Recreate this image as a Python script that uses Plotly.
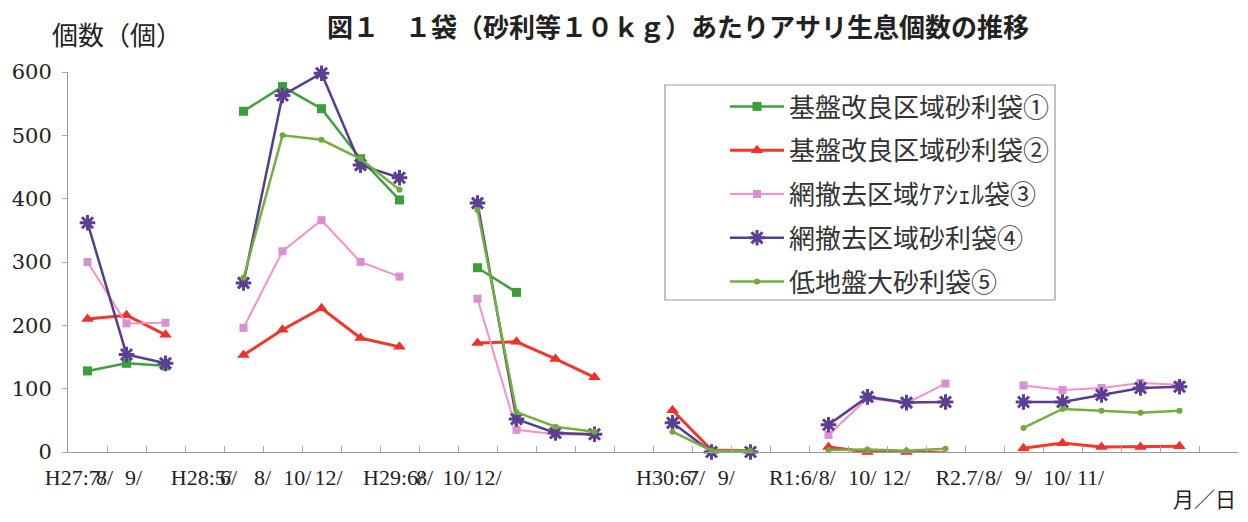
import plotly.graph_objects as go

# slot index of each survey on the x axis (gaps between years)
slots = [0, 1, 2, 4, 5, 6, 7, 8, 10, 11, 12, 13, 15, 16, 17, 19, 20, 21, 22, 24, 25, 26, 27, 28]
tick_labels = ["H27:7/", "8/", "9/", "H28:5/", "6/", "8/", "10/", "12/",
               "H29:6/", "8/", "10/", "12/", "H30:6/", "7/", "9/",
               "R1:6/", "8/", "10/", "12/", "R2.7/", "8/", "9/", "10/", "11/"]
tick_label_pos = [-0.31, 0.44, 1.18, 2.92, 3.62, 4.49, 5.38, 6.18,
                  7.85, 8.64, 9.46, 10.26, 14.85, 15.62, 16.38,
                  18.10, 18.97, 19.87, 20.74, 22.36, 23.23, 24.0, 24.87, 25.72]

s1 = [128, 140, 136, 538, 577, 542, 463, 398, 291, 252, None, None,
      None, None, None, None, None, None, None, None, None, None, None, None]
s2 = [210, 216, 185, 153, 193, 227, 180, 166, 172, 174, 147, 118,
      66, 3, 2, 8, 0, 0, -1, 6, 14, 8, 8, 9]
s3 = [300, 203, 204, 196, 317, 366, 300, 277, 242, 35, 28, 27,
      None, None, None, 27, 85, 77, 108, 105, 98, 101, 109, 106]
s4 = [362, 154, 140, 267, 563, 598, 453, 433, 393, 52, 30, 28,
      46, 0, 0, 43, 87, 78, 79, 79, 79, 90, 101, 103]
s5 = [None, None, None, 275, 500, 493, 463, 414, 382, 63, 40, 32,
      32, 2, 2, 3, 4, 2, 5, 38, 68, 65, 62, 65]

names = ["基盤改良区域砂利袋①", "基盤改良区域砂利袋②", "網撤去区域ｹｱｼｪﾙ袋③",
         "網撤去区域砂利袋④", "低地盤大砂利袋⑤"]
series = [s1, s2, s3, s4, s5]
line_colors = ["#3f9f3f", "#f0382c", "#f590c8", "#583c8e", "#74b040"]
marker_colors = ["#3a9f3a", "#f0302a", "#d890d0", "#5a3f92", "#6eaa3e"]
symbols = ["square", "triangle-up", "square", "asterisk-open", "circle"]
msizes = [9, 11, 8, 13, 6]
lwidths = [2.5, 3, 2, 2.5, 2.5]


def with_breaks(xs, ys):
    """insert a None between year groups so lines do not join across gaps"""
    ox, oy = [], []
    prev = None
    for x, y in zip(xs, ys):
        if prev is not None and x - prev > 1:
            ox.append(None)
            oy.append(None)
        ox.append(x)
        oy.append(y)
        prev = x
    return ox, oy


fig = go.Figure()
for i in range(5):
    mk = dict(symbol=symbols[i], size=msizes[i], color=marker_colors[i])
    if symbols[i] == "asterisk-open":
        mk["line"] = dict(color=marker_colors[i], width=3)
    xx, yy = with_breaks(slots, series[i])
    fig.add_trace(go.Scatter(
        x=xx, y=yy, name=names[i], mode="lines+markers",
        line=dict(color=line_colors[i], width=lwidths[i]),
        marker=mk, connectgaps=False, cliponaxis=False,
        legendgroup="g%d" % i,
    ))

# page body keeps an 8px margin, so the figure is 1232x506 placed at (8, 8)
fig.update_layout(
    width=1232, height=506,
    margin=dict(l=60, r=2, t=64, b=62),
    paper_bgcolor="white", plot_bgcolor="white",
    font=dict(family="Liberation Serif", color="#222"),
    showlegend=True,
    legend=dict(
        x=(725 - 68) / 1170, y=(452 - 83) / 380, xanchor="left", yanchor="top",
        bgcolor="rgba(0,0,0,0)", borderwidth=0,
        font=dict(family="Noto Sans CJK JP", size=26, color="#333"),
        tracegroupgap=7, itemwidth=54,
    ),
    xaxis=dict(
        range=[-0.5, 29.5], showgrid=False, zeroline=False, automargin=False,
        showline=True, linecolor="#999", linewidth=1,
        tickvals=[k + 0.5 for k in range(-1, 30)], ticks="inside",
        ticklen=6, tickcolor="#aaa", showticklabels=False,
    ),
    xaxis2=dict(
        range=[-0.5, 29.5], overlaying="x", side="bottom", anchor="y",
        showgrid=False, zeroline=False, showline=False, automargin=False,
        tickvals=tick_label_pos, ticktext=tick_labels, ticks="",
        ticklabelstandoff=10,
        tickangle=0, tickfont=dict(family="Liberation Serif", size=22, color="#222"),
    ),
    yaxis=dict(
        range=[0, 600], tickvals=[0, 100, 200, 300, 400, 500, 600],
        showgrid=False, zeroline=False, showline=True, linecolor="#999",
        automargin=False,
        ticks="outside", ticklen=5, tickcolor="#aaa", ticklabelstandoff=6,
        tickfont=dict(family="DejaVu Serif", size=21, color="#222"),
    ),
    shapes=[dict(type="rect", xref="paper", yref="paper",
                 x0=(665 - 68) / 1170, x1=(1055 - 68) / 1170,
                 y0=(452 - 300) / 380, y1=(452 - 85) / 380,
                 line=dict(color="#999", width=1.2), fillcolor="rgba(0,0,0,0)")],
    annotations=[
        dict(text="<b>図１　１袋（砂利等１０ｋｇ）あたりアサリ生息個数の推移</b>",
             xref="paper", yref="paper", x=(678 - 68) / 1170, y=1.0, yshift=47,
             xanchor="center", yanchor="middle", showarrow=False,
             font=dict(family="Noto Sans CJK JP", size=26, color="#222")),
        dict(text="個数（個）", xref="paper", yref="paper",
             x=(50 - 68) / 1170, y=1.0, yshift=39, xanchor="left", yanchor="middle",
             showarrow=False, font=dict(family="Noto Sans CJK JP", size=26, color="#222")),
        dict(text="月／日", xref="paper", yref="paper",
             x=1.0, xshift=0, y=0.0, yshift=-46, xanchor="right", yanchor="middle",
             showarrow=False, font=dict(family="Noto Sans CJK JP", size=21, color="#222")),
    ],
)
# invisible helper trace so the label axis (xaxis2) renders
fig.add_trace(go.Scatter(x=[None], y=[None], xaxis="x2", showlegend=False, hoverinfo="skip"))

fig.write_html("out.html")
